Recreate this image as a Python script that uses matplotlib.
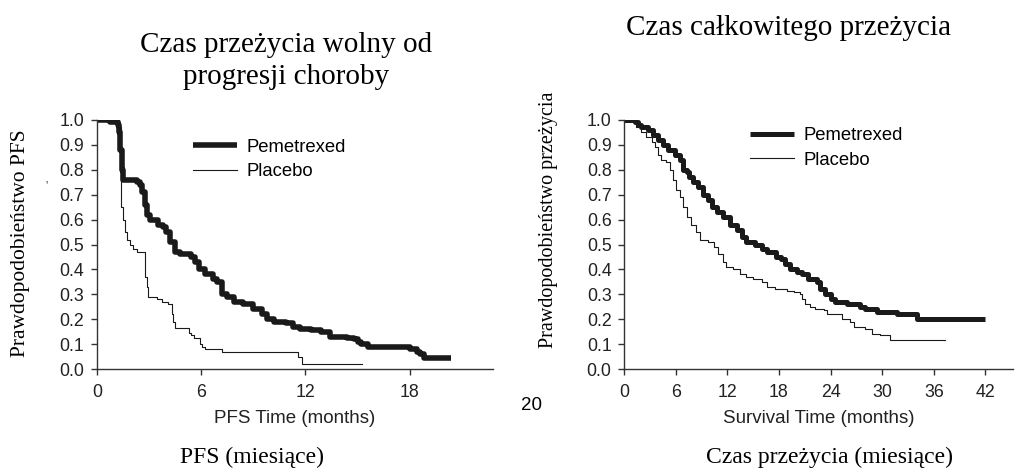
import numpy as np
import matplotlib
matplotlib.use("Agg")
import matplotlib.pyplot as plt

# --- dane: PFS (miesiące) ---
pfs_pem_t = [0, 0.75, 1.2, 1.25, 1.35, 1.45, 1.5, 2.3, 2.5, 2.6, 2.75, 2.9, 3.06, 3.5, 3.8, 4.0, 4.2, 4.5,
             4.8, 5.4, 5.65, 5.9, 6.2, 6.7, 6.9, 7.2, 7.5, 7.9, 8.4, 9.0, 9.5, 9.8, 10.2, 10.9, 11.3, 11.7,
             12.3, 12.9, 13.4, 14.4, 14.8, 15.0, 15.2, 15.6, 18.05, 18.4, 18.6, 18.8, 19.0, 20.4]
pfs_pem_s = [1.0, 0.99, 0.98, 0.95, 0.88, 0.8, 0.76, 0.75, 0.74, 0.71, 0.66, 0.62, 0.6, 0.58, 0.57, 0.55, 0.51, 0.47,
             0.46, 0.45, 0.43, 0.4, 0.38, 0.36, 0.35, 0.3, 0.29, 0.27, 0.26, 0.24, 0.22, 0.2, 0.19, 0.185, 0.17, 0.16,
             0.155, 0.15, 0.13, 0.125, 0.12, 0.11, 0.1, 0.09, 0.08, 0.07, 0.06, 0.045, 0.045, 0.045]

pfs_pla_t = [0, 0.75, 1.2, 1.37, 1.5, 1.6, 1.7, 1.9, 2.1, 2.3, 2.77, 2.87, 2.96, 3.44, 3.75, 4.1, 4.3, 4.4, 4.5,
             5.27, 5.4, 5.56, 5.94, 6.05, 6.23, 7.2, 11.6, 11.8, 11.9, 15.27]
pfs_pla_s = [1.0, 0.99, 0.97, 0.65, 0.6, 0.55, 0.52, 0.5, 0.48, 0.47, 0.37, 0.33, 0.29, 0.28, 0.27, 0.26, 0.22, 0.19, 0.165,
             0.145, 0.135, 0.125, 0.1, 0.09, 0.08, 0.07, 0.05, 0.02, 0.02, 0.02]

# --- dane: przeżycie całkowite (miesiące) ---
os_pem_t = [0, 1.24, 1.6, 2.0, 2.8, 3.4, 4.0, 4.5, 5.1, 5.9, 6.5, 6.9, 7.3, 7.6, 8.0, 8.6, 9.2, 9.8, 10.2,
            10.75, 11.5, 12.3, 13.1, 13.7, 14.2, 15.2, 16.0, 16.6, 17.7, 18.3, 18.7, 19.3, 20.1, 20.7, 21.4,
            22.4, 22.8, 23.4, 24.0, 24.5, 25.9, 27.4, 28.0, 29.4, 31.7, 34.0, 41.9]
os_pem_s = [1.0, 0.99, 0.98, 0.97, 0.96, 0.94, 0.92, 0.9, 0.88, 0.86, 0.84, 0.8, 0.79, 0.77, 0.75, 0.73, 0.7, 0.68, 0.65,
            0.63, 0.61, 0.58, 0.56, 0.53, 0.51, 0.5, 0.48, 0.47, 0.45, 0.44, 0.42, 0.4, 0.39, 0.38, 0.36,
            0.35, 0.32, 0.3, 0.28, 0.27, 0.26, 0.25, 0.24, 0.23, 0.22, 0.2, 0.2]

os_pla_t = [0, 1.05, 1.4, 2.0, 2.6, 3.2, 3.6, 4.0, 4.35, 4.9, 5.3, 5.7, 6.1, 6.5, 6.9, 7.3, 7.8, 8.4, 8.8, 9.8,
            10.4, 10.9, 11.5, 11.9, 12.7, 13.5, 14.2, 15.0, 16.0, 16.6, 17.5, 18.9, 19.7, 20.5, 20.7, 21.0,
            21.6, 22.2, 23.2, 23.6, 25.3, 26.3, 26.7, 28.0, 28.8, 29.8, 30.9, 37.3]
os_pla_s = [1.0, 0.99, 0.97, 0.95, 0.93, 0.91, 0.89, 0.86, 0.84, 0.83, 0.8, 0.76, 0.72, 0.69, 0.65, 0.61, 0.58, 0.55, 0.52, 0.51,
            0.49, 0.46, 0.43, 0.41, 0.4, 0.38, 0.37, 0.36, 0.35, 0.33, 0.32, 0.315, 0.31, 0.3, 0.28, 0.26,
            0.25, 0.24, 0.235, 0.22, 0.2, 0.19, 0.17, 0.16, 0.14, 0.135, 0.115, 0.115]

yticks = np.round(np.arange(0, 1.01, 0.1), 1)
pfs_xticks = [0, 6, 12, 18]
os_xticks = [0, 6, 12, 18, 24, 30, 36, 42]

SERIF = "Liberation Serif"
SANS = "Liberation Sans"
INK = "#1a1a1a"
W, H = 1016, 468

fig = plt.figure(figsize=(W / 100, H / 100), dpi=100)
ax1 = fig.add_axes([97 / W, 1 - 369 / H, 396 / W, 249 / H])
ax2 = fig.add_axes([624 / W, 1 - 369 / H, 389 / W, 249 / H])


def style(ax, xticks, xmax, xlabel):
    ax.set_xlim(0, xmax)
    ax.set_ylim(0, 1.0)
    ax.set_xticks(xticks)
    ax.set_yticks(yticks)
    ax.set_yticklabels([f"{v:.1f}" for v in yticks])
    for s in ["top", "right"]:
        ax.spines[s].set_visible(False)
    for s in ["left", "bottom"]:
        ax.spines[s].set_color("#333333")
        ax.spines[s].set_linewidth(1.0)
    ax.tick_params(axis="both", direction="out", length=4, width=1, color="#333333",
                   labelsize=12.8, labelcolor="#222222")
    ax.tick_params(axis="y", pad=5)
    ax.tick_params(axis="x", pad=7)
    for lab in ax.get_xticklabels() + ax.get_yticklabels():
        lab.set_fontfamily(SANS)
    ax.set_xlabel(xlabel, fontfamily=SANS, fontsize=13.5, color="#222222", labelpad=6)
    ax.patch.set_alpha(0)


ax1.step(pfs_pem_t, pfs_pem_s, where="post", color=INK, lw=4, label="Pemetrexed", solid_capstyle="butt")
ax1.step(pfs_pla_t, pfs_pla_s, where="post", color=INK, lw=0.8, label="Placebo")
style(ax1, pfs_xticks, 22.8, "PFS Time (months)")
ax1.legend(loc="upper left", bbox_to_anchor=(0.242, 0.925), frameon=False, borderpad=0, borderaxespad=0,
           handlelength=2.4, handletextpad=0.5, labelspacing=0.4,
           prop={"family": SANS, "size": 13.3})

ax2.step(os_pem_t, os_pem_s, where="post", color=INK, lw=3.6, label="Pemetrexed", solid_capstyle="butt")
ax2.step(os_pla_t, os_pla_s, where="post", color=INK, lw=0.8, label="Placebo")
style(ax2, os_xticks, 45.2, "Survival Time (months)")
ax2.legend(loc="upper left", bbox_to_anchor=(0.324, 0.97), frameon=False, borderpad=0, borderaxespad=0,
           handlelength=2.4, handletextpad=0.5, labelspacing=0.4,
           prop={"family": SANS, "size": 13.3})

# tytuły i opisy (czcionka szeryfowa)
fig.text(286 / W, 1 - 61 / H, "Czas przeżycia wolny od\nprogresji choroby", ha="center", va="center",
         fontfamily=SERIF, fontsize=21, linespacing=1.35)
fig.text(789 / W, 1 - 28 / H, "Czas całkowitego przeżycia", ha="center", va="center",
         fontfamily=SERIF, fontsize=21)
fig.text(21 / W, 1 - 243 / H, "Prawdopodobieństwo PFS", rotation=90, ha="center", va="center",
         fontfamily=SERIF, fontsize=15.5)
fig.text(47 / W, 1 - 186 / H, "'", ha="center", va="center", fontfamily=SERIF, fontsize=9, color="#444444")
fig.text(548 / W, 1 - 220 / H, "Prawdopodobieństwo przeżycia", rotation=90, ha="center", va="center",
         fontfamily=SERIF, fontsize=14.5)
fig.text(252 / W, 1 - 457 / H, "PFS (miesiące)", ha="center", va="center", fontfamily=SERIF, fontsize=17)
fig.text(829 / W, 1 - 457 / H, "Czas przeżycia (miesiące)", ha="center", va="center", fontfamily=SERIF, fontsize=17)
fig.text(532 / W, 1 - 405 / H, "20", ha="center", va="center", fontfamily=SANS, fontsize=13.5)

fig.savefig("out.png", dpi=100)
